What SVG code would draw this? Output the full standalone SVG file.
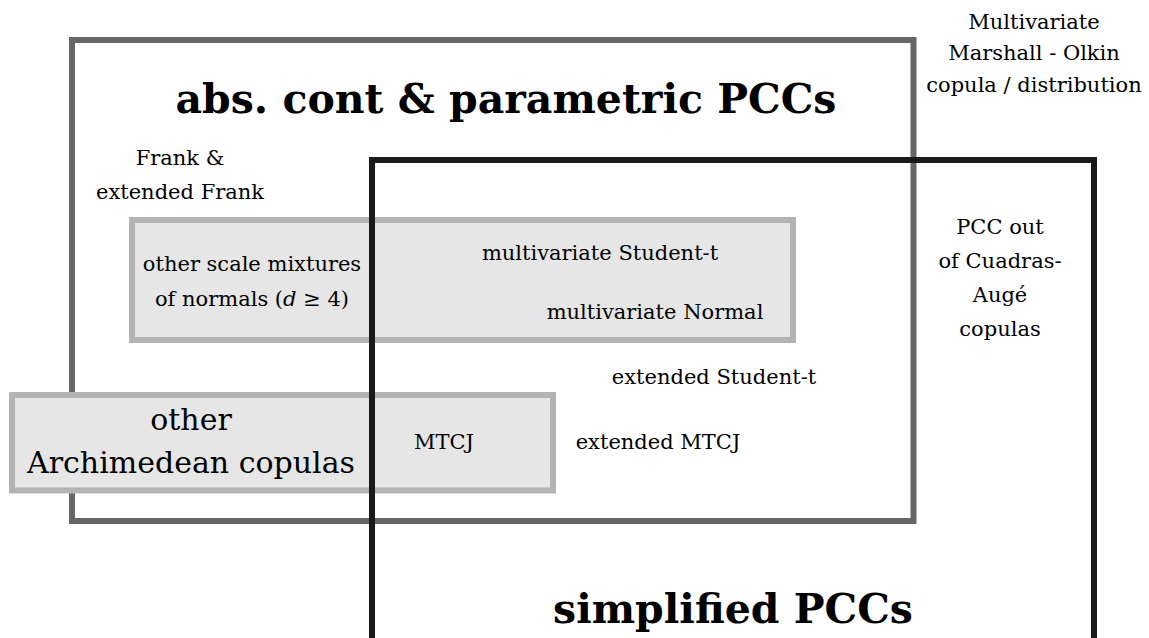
<svg xmlns="http://www.w3.org/2000/svg" width="1149" height="638" viewBox="0 0 1149 638">
<style>
text{font-family:"DejaVu Serif","Liberation Serif",serif;fill:#000;text-anchor:middle}
.n{font-size:21px}
.b{font-size:41px;font-weight:bold}
.m{font-size:30px}
.lite{fill:#e6e6e6;stroke:#b3b3b3;stroke-width:6}
</style>
<rect width="1149" height="638" fill="#fff"/>
<g id="abs-cont">
<rect x="72" y="40" width="841.5" height="481" fill="none" stroke="#666" stroke-width="6"/>
<text class="b" x="506" y="113">abs. cont &amp; parametric PCCs</text>
</g>
<g id="scale-mixtures">
<rect class="lite" x="132" y="220" width="661" height="120"/>
<text class="n" x="252" y="271">other scale mixtures</text>
<text class="n" x="252" y="306">of normals (<tspan font-style="italic">d</tspan> ≥ 4)</text>
</g>
<g id="archimedean">
<rect class="lite" x="12" y="395" width="541" height="95.5"/>
<text class="m" x="191" y="430">other</text>
<text class="m" x="191" y="473">Archimedean copulas</text>
</g>
<g id="simplified">
<path d="M372 650 V160 H1094 V650" fill="none" stroke="#1a1a1a" stroke-width="6"/>
<text class="b" x="733" y="623">simplified PCCs</text>
</g>
<g id="marshall-olkin">
<text class="n" x="1034" y="29">Multivariate</text>
<text class="n" x="1034" y="60">Marshall - Olkin</text>
<text class="n" x="1034" y="92">copula / distribution</text>
</g>
<g id="frank">
<text class="n" x="180" y="165">Frank &amp;</text>
<text class="n" x="180" y="199">extended Frank</text>
</g>
<g id="student-t"><text class="n" x="600" y="260">multivariate Student-t</text></g>
<g id="normal"><text class="n" x="655" y="319">multivariate Normal</text></g>
<g id="ext-student-t"><text class="n" x="714" y="384">extended Student-t</text></g>
<g id="mtcj"><text class="n" x="444" y="449">MTCJ</text></g>
<g id="ext-mtcj"><text class="n" x="658" y="449">extended MTCJ</text></g>
<g id="cuadras-auge">
<text class="n" x="1000" y="234">PCC out</text>
<text class="n" x="1000" y="268">of Cuadras-</text>
<text class="n" x="1000" y="302">Augé</text>
<text class="n" x="1000" y="336">copulas</text>
</g>
<g id="connectors"/>
</svg>
